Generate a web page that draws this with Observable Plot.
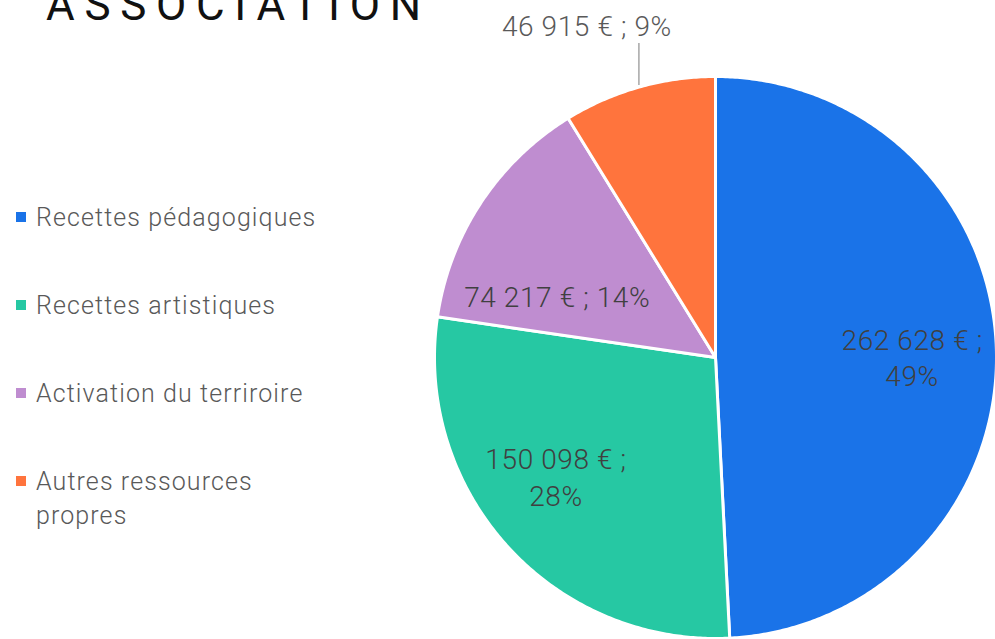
<!DOCTYPE html>
<html>
<head>
<meta charset="utf-8">
<script src="https://cdn.jsdelivr.net/npm/d3@7"></script>
<script src="https://cdn.jsdelivr.net/npm/@observablehq/plot@0.6"></script>
<style>
  html, body { margin: 0; padding: 0; background: #fff; }
  #wrap { position: relative; width: 995px; height: 639px; overflow: hidden; font-family: Roboto, "Noto Sans", sans-serif; }
  #title { position: absolute; left: 46px; top: -17px; font-size: 44px; line-height: 44px; letter-spacing: 9.7px; color: #111; font-weight: 400; white-space: nowrap; }
  .leg { position: absolute; left: 16px; display: flex; align-items: flex-start; font-size: 25px; line-height: 34px; font-weight: 300; color: #595959; letter-spacing: 1.1px; }
  .leg .sw { width: 10px; height: 10px; margin-top: 11.5px; margin-right: 10px; flex: none; }
  #chart { position: absolute; left: 0; top: 0; }
  #chart text { letter-spacing: 0.6px; }
</style>
</head>
<body>
<div id="wrap">
  <div id="chart"></div>
  <div id="title"></div>
  <div id="legend"></div>
</div>
<script>
const titleText = "ASSOCIATION";
const categories = ["Recettes pédagogiques", "Recettes artistiques", "Activation du terriroire", "Autres ressources propres"];
const legendLines = [["Recettes pédagogiques"], ["Recettes artistiques"], ["Activation du terriroire"], ["Autres ressources", "propres"]];
const amounts = [262628, 150098, 74217, 46915];
const amountLabels = ["262 628 €", "150 098 €", "74 217 €", "46 915 €"];
const percentLabels = ["49%", "28%", "14%", "9%"];
const colors = ["#1a73e8", "#26c8a3", "#bf8dd0", "#ff743d"];

document.getElementById("title").textContent = titleText;

// Legend
const legend = document.getElementById("legend");
categories.forEach((c, i) => {
  const row = document.createElement("div");
  row.className = "leg";
  row.style.top = (200.5 + i * 88) + "px";
  const sw = document.createElement("div");
  sw.className = "sw";
  sw.style.background = colors[i];
  const tx = document.createElement("div");
  tx.innerHTML = legendLines[i].join("<br>");
  row.appendChild(sw); row.appendChild(tx);
  legend.appendChild(row);
});

// Pie geometry from data
const arcs = d3.pie().sort(null).value(d => d)(amounts);
const slices = arcs.map((a, i) => {
  const pts = [{x: 0, y: 0}];
  const n = Math.max(2, Math.ceil((a.endAngle - a.startAngle) / (Math.PI / 360)));
  for (let k = 0; k <= n; k++) {
    const t = a.startAngle + (a.endAngle - a.startAngle) * k / n;
    pts.push({x: Math.sin(t), y: Math.cos(t)});
  }
  pts.push({x: 0, y: 0});
  const mid = (a.startAngle + a.endAngle) / 2;
  return {i, pts, mid, category: categories[i], color: colors[i]};
});

const labelR = 0.7;
const inside = slices.slice(0, 3).map(s => ({
  i: s.i,
  x: labelR * Math.sin(s.mid),
  y: labelR * Math.cos(s.mid),
  text: s.i === 2 ? `${amountLabels[s.i]} ; ${percentLabels[s.i]}` : `${amountLabels[s.i]} ;\n${percentLabels[s.i]}`
}));
const orange = slices[3];
const leader = [{x: Math.sin(orange.mid), y1: 0.968, y2: 1.117}];
const outside = [{x: Math.sin(orange.mid), y: 1.185, text: `${amountLabels[3]} ; ${percentLabels[3]}`}];

const R = 281, cx = 715, cy = 357;
const textStyle = {x: "x", y: "y", text: "text", fontSize: 28, fontWeight: 300, fill: "#404040", lineHeight: 1.3};
const chart = Plot.plot({
  width: 995,
  height: 639,
  margin: 0,
  x: {domain: [-1, 1], range: [cx - R, cx + R], axis: null},
  y: {domain: [-1, 1], range: [cy + R, cy - R], axis: null},
  style: {fontFamily: "Roboto, 'Noto Sans', sans-serif", background: "transparent"},
  marks: [
    ...slices.map(s => Plot.line(s.pts, {x: "x", y: "y", fill: s.color, stroke: "white", strokeWidth: 3, strokeLinejoin: "round"})),
    Plot.ruleX(leader, {x: "x", y1: "y1", y2: "y2", stroke: "#a6a6a6", strokeWidth: 1.5}),
    Plot.text(inside.filter(d => d.i === 0), {...textStyle, dy: 4}),
    Plot.text(inside.filter(d => d.i === 1), {...textStyle, dx: -14, dy: -14}),
    Plot.text(inside.filter(d => d.i === 2), {...textStyle, dx: 6, dy: 46}),
    Plot.text(outside, {...textStyle, fill: "#595959", dx: -52})
  ]
});
document.getElementById("chart").appendChild(chart);
</script>
</body>
</html>
